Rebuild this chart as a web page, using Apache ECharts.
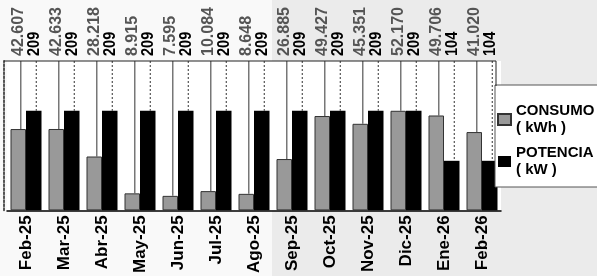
<!DOCTYPE html>
<html>
<head>
<meta charset="utf-8">
<script src="https://cdn.jsdelivr.net/npm/echarts@6/dist/echarts.min.js"></script>
<style>
  html, body { margin: 0; padding: 0; }
  #chart { width: 597px; height: 276px; }
</style>
</head>
<body>
<div id="chart"></div>
<script>
// meses
const categories = ['Feb-25', 'Mar-25', 'Abr-25', 'May-25', 'Jun-25', 'Jul-25', 'Ago-25', 'Sep-25', 'Oct-25', 'Nov-25', 'Dic-25', 'Ene-26', 'Feb-26']
// consumo ( kWh )
const consumo = [42.607, 42.633, 28.218, 8.915, 7.595, 10.084, 8.648, 26.885, 49.427, 45.351, 52.170, 49.706, 41.020]
// potencia ( kW )
const potencia = [209, 209, 209, 209, 209, 209, 209, 209, 209, 209, 209, 104, 104]

const nameConsumo = 'CONSUMO\n( kWh )'
const namePotencia = 'POTENCIA\n( kW )'
const font = '"Liberation Sans", Arial, sans-serif'
const barWidth = 15.5

// linea + etiqueta vertical encima del grafico
function leader(offset, lineStyle, textColor, fontSize, digits, stretch) {
  return function (params, api) {
    const p = api.coord([api.value(0), api.value(1)])
    const cs = params.coordSys
    const x = p[0] + offset
    return {
      type: 'group',
      children: [
        {
          type: 'line',
          shape: { x1: x + 2.5, y1: cs.y, x2: x + 2.5, y2: p[1] },
          style: lineStyle
        },
        {
          type: 'text',
          x: x,
          y: cs.y - 5,
          rotation: Math.PI / 2,
          scaleY: stretch,
          style: {
            text: api.value(1).toFixed(digits),
            align: 'left',
            verticalAlign: 'middle',
            fontFamily: font,
            fontWeight: 'bold',
            fontSize: fontSize,
            fill: textColor
          }
        }
      ]
    }
  }
}

const chart = echarts.init(document.getElementById('chart'))
chart.setOption({
  backgroundColor: '#f9f9f9',
  animation: false,
  textStyle: { fontFamily: font },
  graphic: [
    { type: 'rect', z: -10, shape: { x: 272, y: 0, width: 325, height: 276 }, style: { fill: '#ebebeb' } },
    { type: 'polyline', z: 10, shape: { points: [[4, 61], [496, 61], [496, 86]] }, style: { stroke: '#222', lineWidth: 1, fill: null } }
  ],
  grid: {
    left: 7,
    top: 61,
    width: 494,
    height: 150,
    show: true,
    backgroundColor: '#fff',
    borderWidth: 0
  },
  legend: {
    orient: 'vertical',
    left: 495,
    top: 85,
    data: [nameConsumo, namePotencia],
    icon: 'rect',
    itemWidth: 13,
    itemHeight: 11,
    itemGap: -9,
    backgroundColor: '#fff',
    borderColor: '#555',
    borderWidth: 1,
    padding: [9, 20, 0, 2],
    textStyle: {
      fontFamily: font,
      fontWeight: 'bold',
      fontSize: 15,
      lineHeight: 17,
      color: '#000',
      padding: [17, 0, 0, 0]
    }
  },
  xAxis: {
    type: 'category',
    data: categories,
    axisLine: { lineStyle: { color: '#000', width: 1.5 } },
    axisTick: { show: false },
    axisLabel: {
      rotate: 90,
      interval: 0,
      margin: 5,
      fontFamily: font,
      fontWeight: 'bold',
      fontSize: 17,
      color: '#000',
      padding: [0, 0, 14, 0]
    }
  },
  yAxis: [
    {
      type: 'value',
      min: 0,
      max: Math.max(...consumo) * 1.5,
      offset: 3,
      axisLine: { show: true, lineStyle: { color: '#555', width: 2, type: 'dotted' } },
      axisTick: { show: false },
      axisLabel: { show: false },
      splitLine: { show: false }
    },
    {
      type: 'value',
      min: 0,
      max: Math.max(...potencia) * 1.5,
      axisLine: { show: false },
      axisTick: { show: false },
      axisLabel: { show: false },
      splitLine: { show: false }
    }
  ],
  series: [
    {
      name: nameConsumo,
      type: 'bar',
      yAxisIndex: 0,
      data: consumo,
      barWidth: barWidth,
      barGap: '0%',
      itemStyle: { color: '#999', borderColor: '#333', borderWidth: 1 }
    },
    {
      name: namePotencia,
      type: 'bar',
      yAxisIndex: 1,
      data: potencia,
      barWidth: barWidth,
      barGap: '0%',
      itemStyle: { color: '#000' }
    },
    {
      type: 'custom',
      yAxisIndex: 0,
      z: 1,
      data: consumo.map((v, i) => [i, v]),
      renderItem: leader(-barWidth / 2, { stroke: '#777', lineWidth: 1.5 }, '#555', 16, 3, 1)
    },
    {
      type: 'custom',
      yAxisIndex: 1,
      z: 1,
      data: potencia.map((v, i) => [i, v]),
      renderItem: leader(barWidth / 2, { stroke: '#333', lineWidth: 1, lineDash: [2, 2] }, '#000', 14.5, 0, 1.2)
    }
  ]
})
</script>
</body>
</html>
